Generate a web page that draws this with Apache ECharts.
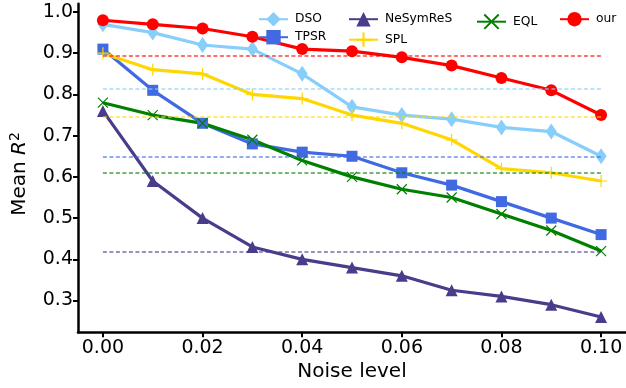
<!DOCTYPE html>
<html><head><meta charset="utf-8">
<script src="https://cdn.jsdelivr.net/npm/echarts@6/dist/echarts.min.js"></script>
<style>html,body{margin:0;padding:0;background:#fff}#c{width:626px;height:388px}</style>
</head><body><div id="c"></div>
<script>
const noise = [0.00,0.01,0.02,0.03,0.04,0.05,0.06,0.07,0.08,0.09,0.10];
const dso = [0.97,0.95,0.92,0.91,0.85,0.77,0.75,0.74,0.72,0.71,0.65];
const tpsr = [0.91,0.81,0.73,0.68,0.66,0.65,0.61,0.58,0.54,0.50,0.46];
const nesymres = [0.76,0.59,0.50,0.43,0.40,0.38,0.36,0.325,0.31,0.29,0.26];
const spl = [0.90,0.86,0.85,0.80,0.79,0.75,0.73,0.69,0.62,0.61,0.59];
const eql = [0.78,0.75,0.73,0.69,0.64,0.60,0.57,0.55,0.51,0.47,0.42];
const our = [0.98,0.97,0.96,0.94,0.91,0.905,0.89,0.87,0.84,0.81,0.75];
const meanLines = {DSO:0.813, TPSR:0.649, NeSymReS:0.419, SPL:0.746, EQL:0.611, our:0.893};
const xTicks = [0,0.02,0.04,0.06,0.08,0.10];
const yTicks = [0.3,0.4,0.5,0.6,0.7,0.8,0.9,1.0];

const FONT = 'DejaVu Sans';
const X_PATH = 'path://M0,0L10,10M10,0L0,10';
const P_PATH = 'path://M5,0L5,10M0,5L10,5';

function mk(name, data, color, symbol, size, extra) {
  const s = {
    name, type:'line', data: noise.map((x,i)=>[x,data[i]]),
    symbol, symbolSize: size,
    lineStyle:{color, width:3.2},
    itemStyle:{color, borderColor:color, borderWidth:0},
    emphasis:{disabled:true},
    animation:false,
    markLine:{
      silent:true, symbol:'none', label:{show:false},
      lineStyle:{color, width:1.5, type:[4,2.5], opacity:0.75},
      data:[[{coord:[noise[0], meanLines[name]]},{coord:[noise[noise.length-1], meanLines[name]]}]]
    }
  };
  return Object.assign(s, extra||{});
}

const series = [
  mk('DSO', dso, '#87cefa', 'diamond', [11,16]),
  mk('TPSR', tpsr, '#4169e1', 'rect', 11),
  mk('NeSymReS', nesymres, '#483d8b', 'triangle', 12),
  mk('SPL', spl, '#ffd700', P_PATH, 12, {itemStyle:{color:'none', borderColor:'#ffd700', borderWidth:1.2}}),
  mk('EQL', eql, '#008000', X_PATH, 10, {itemStyle:{color:'none', borderColor:'#008000', borderWidth:1.2}}),
  mk('our', our, '#ff0000', 'circle', 12),
];

const legPos = [
  ['DSO',258,12],['TPSR',258,30],['NeSymReS',348,12],['SPL',348,30],['EQL',476,12],['our',559,12]
];
const legends = legPos.map(([n,l,t])=>({
  data:[n], left:l, top:t, itemWidth:29, itemHeight:18, selectedMode:false,
  textStyle:{fontFamily:FONT, fontSize:12.3, color:'#000', padding:[0,0,0,2]},
  padding:0
}));

const chart = echarts.init(document.getElementById('c'), null, {renderer:'canvas'});
chart.setOption({
  animation:false,
  backgroundColor:'#fff',
  legend: legends,
  grid:{left:75, right:0, top:3.75, bottom:55.7, containLabel:false},
  xAxis:{
    type:'value', min:-0.005, max:0.105,
    name:'Noise level', nameLocation:'middle', nameGap:28,
    nameTextStyle:{fontFamily:FONT, fontSize:20, color:'#000'},
    splitLine:{show:false},
    axisLine:{show:true, onZero:false, lineStyle:{color:'#000', width:2.5}},
    axisTick:{show:true, length:5, lineStyle:{color:'#000', width:2}, customValues:xTicks},
    axisLabel:{fontFamily:FONT, fontSize:19, color:'#000', margin:6, customValues:xTicks,
      formatter:v=>v.toFixed(2)}
  },
  yAxis:{
    type:'value', min:0.223, max:1.02,
    name:'{a|Mean }{b|R}{c|2}', nameLocation:'middle', nameGap:46,
    nameTextStyle:{fontFamily:FONT, fontSize:20, color:'#000', padding:[0,12,0,0],
      rich:{a:{fontFamily:FONT, fontSize:20, color:'#000'},
            b:{fontFamily:FONT, fontSize:20, fontStyle:'italic', color:'#000'},
            c:{fontFamily:FONT, fontSize:14, color:'#000', verticalAlign:'top', padding:[0,0,10,0]}}},
    splitLine:{show:false},
    axisLine:{show:true, onZero:false, lineStyle:{color:'#000', width:2.5}},
    axisTick:{show:true, length:5, lineStyle:{color:'#000', width:2}, customValues:yTicks},
    axisLabel:{fontFamily:FONT, fontSize:19, color:'#000', margin:5, customValues:yTicks,
      formatter:v=>v.toFixed(1)}
  },
  series
});
</script></body></html>
